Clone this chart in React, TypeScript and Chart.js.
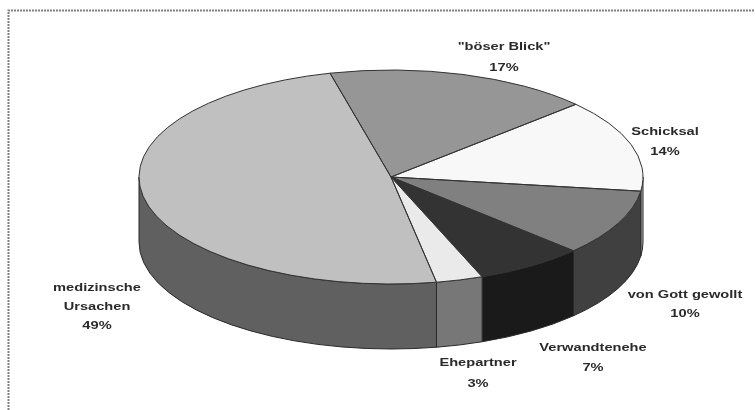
import React, { useEffect, useRef } from "react";
import { Chart, registerables } from "chart.js";

Chart.register(...registerables);

const categories = ['"böser Blick"', "Schicksal", "von Gott gewollt", "Verwandtenehe", "Ehepartner", "medizinsche Ursachen"];
const shares = [17, 14, 10, 7, 3, 49];
const labelLines = [['"böser Blick"', "17%"], ["Schicksal", "14%"], ["von Gott gewollt", "10%"], ["Verwandtenehe", "7%"], ["Ehepartner", "3%"], ["medizinsche", "Ursachen", "49%"]];
const topColors = ["#969696", "#f8f8f8", "#808080", "#333333", "#eaeaea", "#c0c0c0"];
const sideColors = ["#6a6a6a", "#b0b0b0", "#404040", "#1a1a1a", "#777777", "#606060"];

const DEPTH = 65;
const LABEL_PLACES: [number, number][] = [[504, 47], [665, 132], [685, 295], [593, 348], [478, 363], [97, 288]];
const LABEL_STEPS = [20.5, 20, 18.5, 20, 20.5, 19];

const pie3d = {
  id: "pie3d",
  beforeDraw(chart: any) {
    const { ctx, width, height } = chart;
    ctx.save();
    ctx.fillStyle = "#ffffff";
    ctx.fillRect(0, 0, width, height);
    ctx.strokeStyle = "#808080";
    ctx.lineWidth = 2;
    ctx.setLineDash([2, 1]);
    ctx.beginPath();
    ctx.moveTo(8.5, height);
    ctx.lineTo(8.5, 10.5);
    ctx.lineTo(width, 10.5);
    ctx.stroke();
    ctx.restore();
  },
  beforeDatasetsDraw(chart: any) {
    const { ctx, chartArea } = chart;
    const arcs = chart.getDatasetMeta(0).data;
    const sx = chartArea.width / chartArea.height;
    ctx.save();
    arcs.forEach((arc: any, i: number) => {
      const a0 = Math.max(arc.startAngle, 0);
      const a1 = Math.min(arc.endAngle, Math.PI);
      if (a1 <= a0) return;
      const ry = arc.outerRadius;
      const rx = ry * sx;
      ctx.beginPath();
      ctx.ellipse(arc.x, arc.y, rx, ry, 0, a0, a1);
      ctx.ellipse(arc.x, arc.y + DEPTH, rx, ry, 0, a1, a0, true);
      ctx.closePath();
      ctx.fillStyle = sideColors[i];
      ctx.fill();
      ctx.strokeStyle = "#2a2a2a";
      ctx.lineWidth = 1;
      ctx.stroke();
    });
    ctx.restore();
    // The top face: the library's arcs, squeezed into an ellipse
    const c = arcs[0];
    ctx.save();
    ctx.translate(c.x, c.y);
    ctx.scale(sx, 1);
    ctx.translate(-c.x, -c.y);
  },
  afterDatasetsDraw(chart: any) {
    const { ctx, chartArea } = chart;
    ctx.restore();
    const arcs = chart.getDatasetMeta(0).data;
    const sx = chartArea.width / chartArea.height;
    ctx.save();
    ctx.strokeStyle = "#333333";
    ctx.lineWidth = 1;
    arcs.forEach((arc: any) => {
      const ry = arc.outerRadius;
      ctx.beginPath();
      ctx.moveTo(arc.x, arc.y);
      ctx.ellipse(arc.x, arc.y, ry * sx, ry, 0, arc.startAngle, arc.endAngle);
      ctx.closePath();
      ctx.stroke();
    });
    ctx.restore();
  },
  afterDraw(chart: any) {
    const { ctx } = chart;
    ctx.save();
    ctx.fillStyle = "#2a2a2a";
    ctx.font = 'bold 11px "Liberation Sans", Arial, sans-serif';
    ctx.textAlign = "center";
    ctx.textBaseline = "middle";
    labelLines.forEach((lines, i) => {
      const [x, y] = LABEL_PLACES[i];
      lines.forEach((line, k) => {
        ctx.save();
        ctx.translate(x, y + k * LABEL_STEPS[i]);
        ctx.scale(1.33, 1);
        ctx.fillText(line, 0, 0);
        ctx.restore();
      });
    });
    ctx.restore();
  },
};

export default function App() {
  const ref = useRef<HTMLCanvasElement>(null);
  useEffect(() => {
    document.body.style.margin = "0";
    const chart = new Chart(ref.current as HTMLCanvasElement, {
      type: "pie",
      data: {
        labels: categories,
        datasets: [{ data: shares, backgroundColor: topColors, borderWidth: 0 }],
      },
      options: {
        animation: false,
        responsive: false,
        rotation: -14,
        layout: { padding: { left: 139, right: 112, top: 70, bottom: 126 } },
        plugins: { legend: { display: false }, tooltip: { enabled: false }, title: { display: false } },
      },
      plugins: [pie3d],
    } as any);
    return () => chart.destroy();
  }, []);
  return (
    <canvas
      ref={ref}
      width={755}
      height={410}
      style={{ display: "block", width: 755, height: 410, filter: "blur(0.7px)" }}
    />
  );
}
